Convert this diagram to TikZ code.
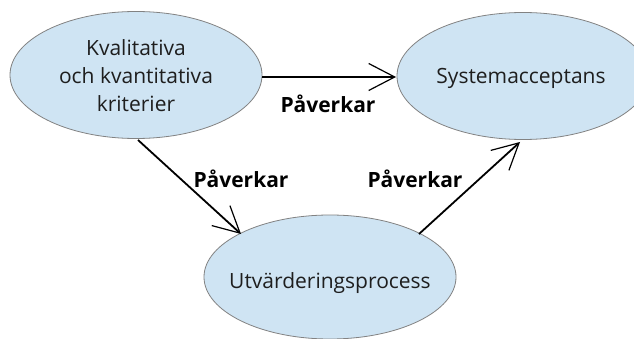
\documentclass[tikz,border=0pt]{standalone}
\usepackage{fontspec}
\setmainfont{Open Sans}
\usetikzlibrary{shapes.geometric,arrows.meta}
\definecolor{ellfill}{RGB}{207,228,243}
\definecolor{ellline}{RGB}{130,130,130}
\definecolor{txt}{RGB}{30,30,30}
\tikzset{
  bubble/.style={ellipse, draw=ellline, line width=0.8pt, fill=ellfill,
    minimum width=252pt, minimum height=127pt, inner sep=0pt},
  bubbletext/.style={font=\fontsize{21}{28}\selectfont, text=txt, align=center, inner sep=0pt},
  link/.style={line width=1.8pt, -{Straight Barb[length=26pt,width=27pt,line width=1.2pt]}},
  lbl/.style={font=\fontsize{21}{24}\selectfont\bfseries, text=black, inner sep=0pt}
}
\begin{document}
\begin{tikzpicture}[x=1pt,y=-1pt]
\useasboundingbox (0,0) rectangle (634,339);
\clip (0,0) rectangle (634,339);
\fill[white] (0,0) rectangle (634,339);
\node[bubble] (A) at (136,75) {};
\node[bubble] (B) at (523,76) {};
\node[bubble, minimum height=124pt] (C) at (330,277) {};
\node[bubbletext] (tA) at (136,76) {Kvalitativa\\och kvantitativa\\kriterier};
\node[bubbletext] (tB) at (521,78) {Systemacceptans};
\node[bubbletext] (tC) at (330,283) {Utvärderingsprocess};
\coordinate (a1) at (262,77);
\coordinate (b1) at (396,77);
\coordinate (a2) at (138,140);
\coordinate (c2) at (241,234);
\coordinate (c3) at (419,234);
\coordinate (b3) at (520,142);
\draw[link] (a1) -- (b1);
\draw[link] (a2) -- (c2);
\draw[link] (c3) -- (b3);
\node[lbl] (l1) at (328,104) {Påverkar};
\node[lbl] (l2) at (241,179) {Påverkar};
\node[lbl] (l3) at (415,179) {Påverkar};
\end{tikzpicture}
\end{document}
